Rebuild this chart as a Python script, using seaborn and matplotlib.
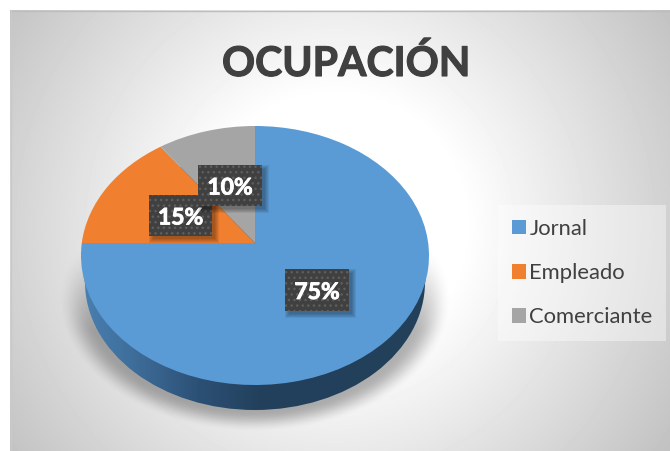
import numpy as np
import matplotlib
matplotlib.use('Agg')
import matplotlib.pyplot as plt
import matplotlib.patheffects as pe
import seaborn as sns
from matplotlib.colors import LinearSegmentedColormap
from matplotlib.patches import Ellipse, Polygon, Rectangle
from matplotlib.transforms import Transform

# data
categories = ['Jornal', 'Empleado', 'Comerciante']
shares = [75, 15, 10]
colors = ['#5b9bd5', '#f07f30', '#a5a5a5']
title = 'OCUPACIÓN'

sns.set_theme(style='white')
plt.rcParams['font.family'] = ['Lato', 'DejaVu Sans']


class TiltedDisc(Transform):
    # maps the unit pie onto the tilted disc, in picture pixels
    input_dims = 2
    output_dims = 2
    is_affine = False

    def transform_non_affine(self, values):
        v = np.asarray(values, dtype=float)
        w = 1 + 0.0965 * v[:, 1]
        return np.column_stack([255 + 173.2 * v[:, 0] / w, 243 - 128.3 * v[:, 1] / w])


W, H = 670, 451
fig = plt.figure(figsize=(W / 100, H / 100), dpi=100, facecolor='white')
ax = fig.add_axes([0, 0, 1, 1])
wedges, _ = ax.pie(shares, colors=sns.color_palette(colors), startangle=90,
                   counterclock=False, wedgeprops={'linewidth': 0})
ax.set_aspect('auto')

# chart background, radial
xx, yy = np.meshgrid(np.arange(10, W) + 0.5, np.arange(10, H) + 0.5)
r = np.hypot(xx - 335, yy - 225)
shade = 1 - 0.24 * np.clip((r - 130) / 270, 0, 1)
ax.imshow(shade, cmap='gray', vmin=0, vmax=1, extent=(10, W, H, 10), aspect='auto', zorder=0)
ax.plot([10, W], [10.5, 10.5], color='#bdbdbd', lw=1, zorder=1)
ax.plot([10.5, 10.5], [10, H], color='#c9c9c9', lw=1, zorder=1)

# soft shadow below the pie
u = np.hypot((xx - 255) / 188, (yy - 298) / 128)
soft = np.clip((1.05 - u) / 0.17, 0, 1)
soft = soft * soft * (3 - 2 * soft) * np.clip((yy - 245) / 85, 0, 1)
shadow = np.zeros(xx.shape + (4,))
shadow[..., 3] = 0.3 * soft
ax.imshow(shadow, extent=(10, W, H, 10), aspect='auto', zorder=1)

# pie wall with its left to right gradient
wall = LinearSegmentedColormap.from_list('wall', [(0, '#4a80b2'), (0.14, '#3f6f9c'), (0.34, '#2c5075'),
                                                  (0.52, '#22405c'), (1, '#23405a')])
ramp = np.linspace(0, 1, 350).reshape(1, -1)
for clip in [Ellipse((255, 282), 340, 256, transform=ax.transData),
             Polygon([(81, 252), (428, 252), (425, 284), (85, 284)], transform=ax.transData)]:
    im = ax.imshow(ramp, cmap=wall, extent=(80, 430, 415, 120), aspect='auto', zorder=2)
    im.set_clip_path(clip)

for wedge in wedges:
    wedge.set_transform(TiltedDisc() + ax.transData)
    wedge.set_zorder(3)
    wedge.set_clip_on(False)

# value labels
boxes = [(285, 269, 64, 42), (149, 195, 63, 41), (198, 165, 64, 41)]
for share, (bx, by, bw, bh), z in zip(shares, boxes, [4, 4.2, 4.4]):
    for grow in range(5):
        ax.add_patch(Rectangle((bx + 4 - grow, by + 4 - grow), bw + 2 * grow - 1, bh + 2 * grow - 1,
                               facecolor='black', edgecolor='none', alpha=0.07, zorder=z))
    ax.add_patch(Rectangle((bx, by), bw, bh, facecolor='#404040', edgecolor='#5e5e5e', hatch='...',
                           linewidth=0, zorder=z + 0.05))
    ax.text(bx + bw / 2, by + bh / 2 + 0.5, f'{share}%', color='white', fontsize=16.5, fontweight='bold',
            ha='center', va='center_baseline', zorder=z + 0.1,
            path_effects=[pe.withStroke(linewidth=0.6, foreground='white')])

ax.text(346, 76, title, color='#404040', fontsize=29.5, fontweight='bold', ha='center', va='baseline', zorder=5,
        path_effects=[pe.withStroke(linewidth=0.8, foreground='#404040')])

ax.set_xlim(0, W)
ax.set_ylim(H, 0)
ax.axis('off')

leg = ax.legend(wedges, categories, loc='upper left', bbox_to_anchor=(498 / W, 1 - 205 / H), ncol=1,
                frameon=True, fancybox=False, framealpha=0.4, facecolor='white', edgecolor='none',
                fontsize=15.8, labelcolor='#404040', handlelength=0.65, handleheight=0.65,
                handletextpad=0.15, labelspacing=1.1, borderaxespad=0, borderpad=0.63)
leg.set_zorder(6)

fig.savefig('out.png', dpi=100)
